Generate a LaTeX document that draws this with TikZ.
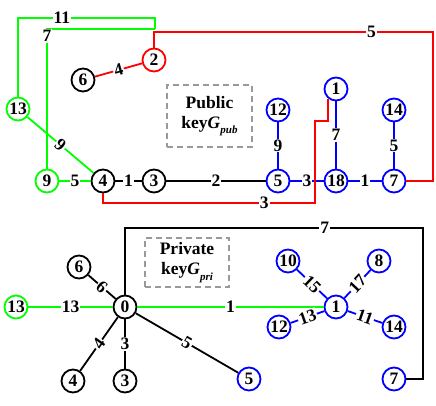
\documentclass[tikz,border=0pt]{standalone}
\usepackage{fontspec}
\setmainfont{Liberation Serif}
\begin{document}
\begin{tikzpicture}[x=1pt, y=-1pt, line width=1.8pt,
    nd/.style={circle, draw, fill=white, text=black, minimum size=23pt, inner sep=0pt},
    lbl/.style={fill=white, text=black, inner sep=1pt},
    caja/.style={draw=gray!80, dash pattern=on 6pt off 4pt, line width=1.3pt, align=center, inner sep=0pt},
    font=\fontsize{17.5}{20}\selectfont\bfseries]
  \useasboundingbox (0,0) rectangle (436,405);
  % el grafo publico
  \node[nd, draw=red] (t2) at (154,60) {2};
  \node[nd] (t6) at (83,80) {6};
  \node[nd] (t4) at (103,181) {4};
  \node[nd] (t3) at (154,181) {3};
  \node[nd, draw=green] (t13) at (18,109) {13};
  \node[nd, draw=green] (t9) at (47,181) {9};
  \foreach \n/\x/\y in {5/278/181, 18/336/181, 7/394/181, 12/278/110, 1/336/89, 14/394/110}
    \node[nd, draw=blue] (t\n) at (\x,\y) {\n};
  \coordinate (gh) at (155,18);
  \coordinate (gv) at (155,29);
  % aristas verdes y negras
  \draw[green] (t13) |- node[lbl, pos=0.66]{11} (gh) -- (gv);
  \draw[green] (t9) |- node[lbl, pos=0.475]{7} (gv);
  \draw[green] (t9) -- node[lbl]{5} (t4);
  \draw[green] (t13) -- node[lbl, sloped]{9} (t4);
  \draw (t4) -- node[lbl]{1} (t3);
  \draw (t3) -- node[lbl]{2} (t5);
  % aristas azules
  \draw[blue] (t5) -- node[lbl]{3} (t18);
  \draw[blue] (t18) -- node[lbl]{1} (t7);
  \draw[blue] (t5) -- node[lbl]{9} (t12);
  \draw[blue] (t18) -- node[lbl]{7} (t1);
  \draw[blue] (t7) -- node[lbl]{5} (t14);
  % aristas rojas
  \draw[red] (t6) -- node[lbl, sloped]{4} (t2);
  \draw[red] (t2) |- node[lbl, pos=0.89]{5} (433,32) |- (t7);
  \draw[red] (t1.230) |- (315,121) -- (315,203) -| node[lbl, pos=0.12]{3} (t4);
  \node[caja, minimum width=85pt, minimum height=62pt] (pub) at (209.5,116)
    {Public\\key\textit{G}\raisebox{-0.3em}{\fontsize{11}{11}\selectfont\textit{pub}}};
  % el grafo privado
  \node[nd] (b0) at (125,307) {0};
  \node[nd] (b6) at (79,267) {6};
  \node[nd] (b4) at (73,381) {4};
  \node[nd] (b3) at (125,381) {3};
  \node[nd, draw=green] (b13) at (16,307) {13};
  \foreach \n/\x/\y in {5/249/379, 1/336/307, 10/288/261, 8/379/261, 12/279/327, 14/394/327, 7/394/379}
    \node[nd, draw=blue] (b\n) at (\x,\y) {\n};
  \draw (b0) -- node[lbl, sloped]{6} (b6);
  \draw (b0) -- node[lbl, sloped]{4} (b4);
  \draw (b0) -- node[lbl]{3} (b3);
  \draw (b0) -- node[lbl, sloped]{5} (b5);
  \draw (b0) |- node[lbl, pos=0.835]{7} (423,228) |- (b7);
  \draw[green] (b13) -- node[lbl]{13} (b0);
  \draw[green] (b0) -- node[lbl]{1} (b1);
  \draw[blue] (b1) -- node[lbl, sloped]{15} (b10);
  \draw[blue] (b1) -- node[lbl, sloped]{17} (b8);
  \draw[blue] (b1) -- node[lbl, sloped]{13} (b12);
  \draw[blue] (b1) -- node[lbl, sloped]{11} (b14);
  \node[caja, minimum width=84pt, minimum height=49pt] (pri) at (187,262.5)
    {Private\\key\textit{G}\raisebox{-0.3em}{\fontsize{11}{11}\selectfont\textit{pri}}};
\end{tikzpicture}
\end{document}
